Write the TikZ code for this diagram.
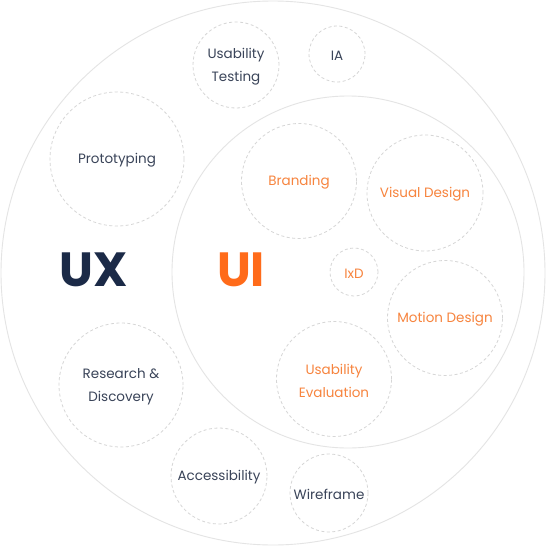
\documentclass[tikz,border=0pt]{standalone}
\usepackage{fontspec}
\setmainfont{Poppins}
\definecolor{navy}{HTML}{1B2A47}
\definecolor{labgrey}{HTML}{3A4459}
\definecolor{uiorange}{HTML}{FF6B1A}
\definecolor{laborange}{HTML}{F7843E}
\definecolor{dashgrey}{HTML}{D6D6D6}
\definecolor{ringgrey}{HTML}{E4E4E4}
\tikzset{
  ring/.style={circle, draw=ringgrey, line width=0.9pt, inner sep=0pt},
  bubble/.style={circle, draw=dashgrey, line width=0.8pt, dash pattern=on 3pt off 2.5pt, inner sep=0pt},
  uxlab/.style={bubble},
  uilab/.style={bubble},
  lab/.style={align=center, inner sep=0pt, font=\fontsize{13.5}{23}\selectfont},
  big/.style={font=\fontsize{48}{48}\selectfont\bfseries}
}
\begin{document}
\begin{tikzpicture}[x=1pt,y=-1pt]
\useasboundingbox (0,0) rectangle (546,546);
\fill[white] (0,0) rectangle (546,546);
\node[ring, minimum size=544pt] (ux) at (273,273) {};
\node[ring, minimum size=352pt] (ui) at (348,272) {};
\node[uxlab, minimum size=86pt] (ut) at (236,65) {};
\node[uxlab, minimum size=56pt] (ia) at (337,54) {};
\node[uxlab, minimum size=134pt] (pr) at (117,159) {};
\node[uxlab, minimum size=124pt] (rd) at (121,385) {};
\node[uxlab, minimum size=96pt] (ac) at (219,476) {};
\node[uxlab, minimum size=78pt] (wf) at (329,493) {};
\node[uilab, minimum size=115pt] (br) at (299,181) {};
\node[uilab, minimum size=116pt] (vd) at (425,193) {};
\node[uilab, minimum size=48pt] (ix) at (354,272) {};
\node[uilab, minimum size=115pt] (md) at (445,318) {};
\node[uilab, minimum size=115pt] (ue) at (334,379) {};
\node[lab, text=labgrey] (utl) at ([yshift=-1.5pt]ut.center) {Usability\\Testing};
\node[lab, text=labgrey] (ial) at ([yshift=-1.5pt]ia.center) {IA};
\node[lab, text=labgrey] (prl) at ([yshift=-1.5pt]pr.center) {Prototyping};
\node[lab, text=labgrey] (rdl) at ([yshift=-1.5pt]rd.center) {Research \&\\Discovery};
\node[lab, text=labgrey] (acl) at ([yshift=-1.5pt]ac.center) {Accessibility};
\node[lab, text=labgrey] (wfl) at ([yshift=-1.5pt]wf.center) {Wireframe};
\node[lab, text=laborange] (brl) at ([yshift=-1.5pt]br.center) {Branding};
\node[lab, text=laborange] (vdl) at ([yshift=-1.5pt]vd.center) {Visual Design};
\node[lab, text=laborange] (ixl) at ([yshift=-1.5pt]ix.center) {IxD};
\node[lab, text=laborange] (mdl) at ([yshift=-1.5pt]md.center) {Motion Design};
\node[lab, text=laborange] (uel) at ([yshift=-1.5pt]ue.center) {Usability\\Evaluation};
\node[big, text=navy] (uxt) at (94,270) {UX};
\node[big, text=uiorange] (uit) at (241,270) {UI};
\end{tikzpicture}
\end{document}
